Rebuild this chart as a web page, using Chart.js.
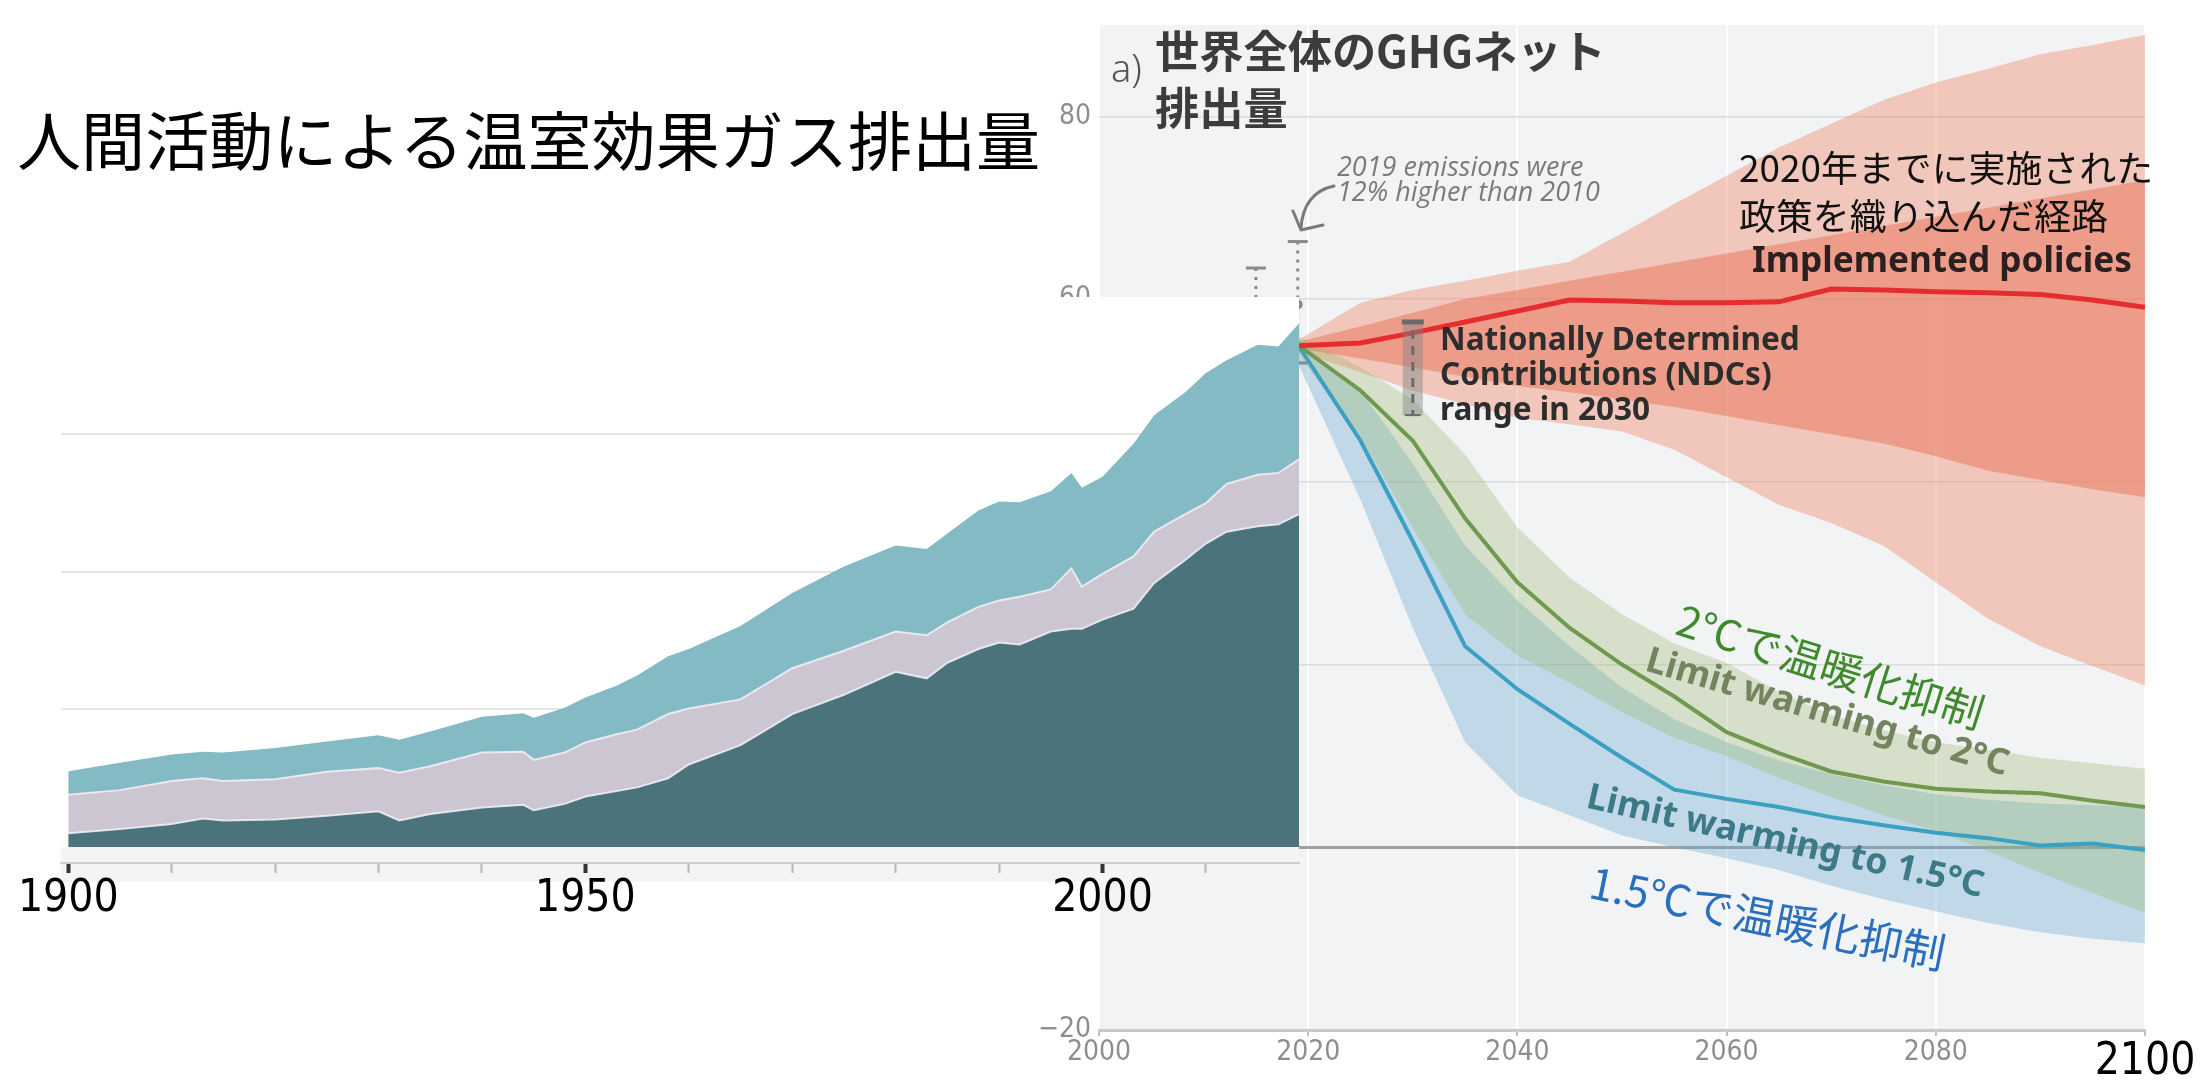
<!DOCTYPE html>
<html lang="ja">
<head>
<meta charset="UTF-8">
<title>人間活動による温室効果ガス排出量</title>
<script src="https://cdn.jsdelivr.net/npm/chart.js"></script>
<style>
  body { margin: 0; background: #fff; }
  #stage { position: relative; width: 2203px; height: 1085px; overflow: hidden; }
  canvas { position: absolute; left: 0; top: 0; }
  .txt { position: absolute; display: inline-block; white-space: nowrap; font-family: "Noto Sans CJK JP", "Noto Sans", sans-serif; }
  .lat { font-family: "Noto Sans", "Open Sans", sans-serif; font-weight: 700; }
  .rot { line-height: 1.2; }
</style>
</head>
<body>
<div id="stage">
  <canvas id="future" width="2203" height="1085"></canvas>
  <canvas id="history" width="2203" height="1085"></canvas>

  <svg width="2203" height="1085" style="position:absolute;left:0;top:0">
    <path d="M1334,186 C1314,190 1302,205 1301,229" stroke="#7a7a7a" stroke-width="3" fill="none" stroke-linecap="round"/>
    <polyline points="1293,211 1301,230 1323,225" stroke="#7a7a7a" stroke-width="3" fill="none" stroke-linecap="round" stroke-linejoin="round"/>
  </svg>

  <div class="txt" data-w="1023" style="left:17px;top:107px;font-size:60px;line-height:60px;color:#000">人間活動による温室効果ガス排出量</div>

  <div class="txt" style="left:1111px;top:47px;font-size:38px;line-height:40px;color:#555;font-family:'Noto Sans',sans-serif;font-weight:300">a)</div>
  <div class="txt" data-w="451" style="left:1155px;top:21px;font-size:45px;line-height:57px;color:#3c3c3c;font-weight:700">世界全体のGHGネット<br>排出量</div>

  <div class="txt" data-w="263" style="left:1337px;top:153px;font-size:24px;line-height:25px;color:#7b7b7b;font-style:italic;font-family:'Open Sans','Noto Sans',sans-serif">2019 emissions were<br>12% higher than 2010</div>

  <div class="txt" data-w="414" style="left:1739px;top:142px;font-size:37px;line-height:48px;color:#111">2020年までに実施された<br>政策を織り込んだ経路</div>
  <div class="txt lat" data-w="380" style="left:1752px;top:240px;font-size:31px;line-height:36px;color:#2a2020">Implemented policies</div>

  <div class="txt lat" data-w="360" style="left:1440px;top:320px;font-size:29px;line-height:35px;color:#2d2d2d">Nationally Determined<br>Contributions (NDCs)<br>range in 2030</div>

  <div class="txt rot" data-w="319" style="left:1831px;top:665px;font-size:42px;color:#3f8a2c;transform:translate(-50%,-50%) rotate(17.5deg)">2℃で温暖化抑制</div>
  <div class="txt rot lat" data-w="376" style="left:1828px;top:710px;font-size:31px;color:#72855f;transform:translate(-50%,-50%) rotate(16.3deg)">Limit warming to 2°C</div>
  <div class="txt rot lat" data-w="406" style="left:1786px;top:839px;font-size:31px;color:#3d7a88;transform:translate(-50%,-50%) rotate(12.8deg)">Limit warming to 1.5°C</div>
  <div class="txt rot" data-w="362" style="left:1768px;top:916px;font-size:43px;color:#2a6fbd;transform:translate(-50%,-50%) rotate(11.5deg)">1.5℃で温暖化抑制</div>
</div>

<script>
// ---- historical emissions (left panel), upper edge of each stacked layer ----
const histYears = [1900, 1905, 1910, 1913, 1915, 1920, 1925, 1930, 1932, 1935, 1940, 1944, 1945, 1948, 1950, 1953, 1955, 1958,
                   1960, 1965, 1970, 1975, 1980, 1983, 1985, 1988, 1990, 1992, 1995, 1997, 1998, 2000, 2003, 2005, 2008,
                   2010, 2012, 2015, 2017, 2019];
const histDarkTop = [1.5, 1.95, 2.5, 3.1, 2.9, 3.0, 3.4, 3.9, 2.9, 3.6, 4.3, 4.6, 4.0, 4.7, 5.5, 6.1, 6.5, 7.5,
                     9.0, 11.1, 14.5, 16.6, 19.1, 18.4, 20.1, 21.6, 22.3, 22.1, 23.5, 23.8, 23.8, 24.8, 26.0, 28.8, 31.3,
                     33.1, 34.4, 35.0, 35.2, 36.3];
const histMidTop = [5.7, 6.2, 7.2, 7.5, 7.2, 7.4, 8.2, 8.6, 8.1, 8.8, 10.3, 10.4, 9.5, 10.3, 11.4, 12.3, 12.8, 14.5,
                    15.1, 16.1, 19.5, 21.4, 23.5, 23.1, 24.5, 26.2, 26.9, 27.3, 28.1, 30.4, 28.4, 29.8, 31.7, 34.4, 36.3,
                    37.5, 39.6, 40.6, 40.8, 42.3];
const histTotal = [8.25, 9.2, 10.1, 10.4, 10.3, 10.8, 11.5, 12.2, 11.7, 12.6, 14.2, 14.6, 14.1, 15.2, 16.3, 17.6, 18.7, 20.8,
                   21.6, 24.1, 27.7, 30.6, 32.9, 32.5, 34.2, 36.7, 37.7, 37.6, 38.8, 40.8, 39.2, 40.4, 44.0, 47.1, 49.6,
                   51.7, 53.1, 54.8, 54.6, 57.1];
const histTickLabels = [1900, 1950, 2000];

// ---- scenario pathways (right panel) ----
const scenYears = [2019, 2025, 2030, 2035, 2040, 2045, 2050, 2055, 2060, 2065, 2070, 2075, 2080, 2085, 2090, 2095, 2100];
const policyMedian = [54.9, 55.2, 56.3, 57.5, 58.7, 59.9, 59.8, 59.6, 59.6, 59.7, 61.1, 61.0, 60.8, 60.7, 60.5, 59.9, 59.1];
const policyOuterHigh = [55.5, 59.6, 61.0, 62.0, 63.1, 64.1, 67.2, 70.4, 73.5, 76.6, 79.2, 81.8, 83.7, 85.2, 86.8, 87.8, 88.9];
const policyOuterLow = [54.3, 52.0, 50.0, 48.5, 47.0, 46.3, 45.5, 43.5, 40.5, 37.5, 35.5, 33.0, 29.0, 25.0, 22.0, 19.8, 17.7];
const policyInnerHigh = [55.3, 57.0, 58.5, 60.0, 61.0, 62.0, 63.0, 64.0, 65.0, 66.0, 67.0, 68.0, 69.0, 70.0, 71.0, 72.0, 73.0];
const policyInnerLow = [54.6, 53.5, 52.5, 51.5, 50.5, 49.8, 49.0, 48.2, 47.2, 46.2, 45.2, 44.2, 42.8, 41.2, 40.2, 39.2, 38.3];
const limit2Median = [55.0, 50.0, 44.5, 36.0, 29.0, 24.0, 20.0, 16.5, 12.6, 10.3, 8.3, 7.2, 6.4, 6.1, 5.9, 5.1, 4.4];
const limit2High = [56.0, 52.5, 49.0, 43.0, 35.0, 29.5, 25.5, 22.3, 20.2, 17.0, 14.5, 12.8, 11.5, 10.7, 9.8, 9.2, 8.6];
const limit2Low = [54.0, 45.0, 35.0, 25.5, 21.0, 18.0, 14.8, 12.0, 10.0, 7.6, 5.5, 3.5, 1.8, -0.4, -2.8, -5.0, -7.2];
const limit15Median = [55.0, 44.5, 33.5, 22.0, 17.3, 13.5, 9.8, 6.3, 5.3, 4.4, 3.3, 2.4, 1.6, 1.0, 0.2, 0.4, -0.3];
const limit15High = [55.5, 50.0, 42.0, 33.0, 27.0, 22.0, 17.5, 14.0, 11.5, 9.5, 8.0, 6.8, 5.8, 5.2, 4.8, 4.6, 4.4];
const limit15Low = [53.0, 38.0, 24.0, 11.5, 5.7, 3.5, 1.3, 0.0, -1.2, -2.5, -4.2, -5.7, -7.0, -8.3, -9.3, -10.0, -10.5];

// uncertainty whiskers on observed emissions, the 2019 value, and the NDC range
const obsYears = [2015, 2019];
const obsLow = [50.0, 53.0];
const obsHigh = [63.4, 66.3];
const obs2019 = 59.4;
const ndcYear = 2030;
const ndcLow = 47.3;
const ndcHigh = 57.5;

const narrow = '"Liberation Sans Narrow", "DejaVu Sans Condensed", sans-serif';
const condensed = '"DejaVu Sans Condensed", "DejaVu Sans", sans-serif';

function pts(xs, ys) { return xs.map((x, i) => ({ x: x, y: ys[i] })); }
function band(low, high, color, order) {
    return [
        { data: pts(scenYears, low), borderWidth: 0, fill: false, order: order },
        { data: pts(scenYears, high), borderWidth: 0, fill: '-1', backgroundColor: color, order: order }
    ];
}

const panelBg = {
    id: 'panelBg',
    beforeDraw(chart) {
        const { ctx, chartArea: a } = chart;
        ctx.save();
        ctx.fillStyle = '#f2f3f5';
        ctx.fillRect(a.left, a.top, a.right - a.left, a.bottom - a.top);
        ctx.restore();
    }
};

const markers = {
    id: 'markers',
    afterDatasetsDraw(chart) {
        const { ctx, scales: { x, y } } = chart;
        const seg = (x1, y1, x2, y2) => { ctx.beginPath(); ctx.moveTo(x1, y1); ctx.lineTo(x2, y2); ctx.stroke(); };
        ctx.save();
        ctx.strokeStyle = '#8a8a8a';
        ctx.lineWidth = 3;
        obsYears.forEach((yr, i) => {
            const px = x.getPixelForValue(yr);
            const t = y.getPixelForValue(obsHigh[i]);
            const b = y.getPixelForValue(obsLow[i]);
            ctx.setLineDash([3, 6]);
            seg(px, t, px, b);
            ctx.setLineDash([]);
            seg(px - 10, t, px + 10, t);
            seg(px - 10, b, px + 10, b);
        });
        ctx.fillStyle = '#8a8a8a';
        ctx.beginPath();
        ctx.arc(x.getPixelForValue(2019), y.getPixelForValue(obs2019), 5, 0, Math.PI * 2);
        ctx.fill();

        // NDC range bar
        const nx = x.getPixelForValue(ndcYear);
        const nt = y.getPixelForValue(ndcHigh);
        const nb = y.getPixelForValue(ndcLow);
        ctx.fillStyle = 'rgba(130,130,130,0.45)';
        ctx.fillRect(nx - 10, nt, 20, nb - nt);
        ctx.strokeStyle = '#6a6a6a';
        ctx.setLineDash([9, 7]);
        seg(nx, nt + 8, nx, nb);
        ctx.setLineDash([]);
        ctx.lineWidth = 5;
        seg(nx - 11, nt, nx + 11, nt);
        ctx.lineWidth = 2;
        seg(nx - 8, nb, nx + 8, nb);
        ctx.restore();
    }
};

new Chart(document.getElementById('future'), {
    type: 'line',
    data: {
        datasets: [
            ...band(policyOuterLow, policyOuterHigh, 'rgba(240,130,100,0.4)', 10),
            ...band(policyInnerLow, policyInnerHigh, 'rgba(235,110,85,0.48)', 9),
            ...band(limit15Low, limit15High, 'rgba(100,165,205,0.35)', 8),
            ...band(limit2Low, limit2High, 'rgba(150,180,100,0.3)', 7),
            { data: pts(scenYears, limit15Median), borderColor: '#3ba0c2', borderWidth: 4, fill: false, order: 3 },
            { data: pts(scenYears, limit2Median), borderColor: '#70994f', borderWidth: 4, fill: false, order: 2 },
            { data: pts(scenYears, policyMedian), borderColor: '#e52d30', borderWidth: 5, fill: false, order: 1 }
        ]
    },
    options: {
        responsive: false,
        animation: false,
        layout: { padding: { left: 1039, right: 58, top: 25, bottom: 0 } },
        plugins: { legend: { display: false }, tooltip: { enabled: false } },
        elements: { point: { radius: 0 }, line: { tension: 0 } },
        scales: {
            x: {
                type: 'linear', min: 2000, max: 2100,
                afterFit: s => { s.height = 55; },
                border: { color: '#c9c9c9', width: 3 },
                grid: { color: '#ffffff', lineWidth: 2, tickColor: '#c0c0c0', tickWidth: 2, tickLength: 6 },
                ticks: {
                    stepSize: 20, padding: 0, autoSkip: false, maxRotation: 0,
                    callback: v => String(v),
                    color: c => (c.tick && c.tick.value === 2100) ? '#000' : '#8e8e8e',
                    font: c => (c.tick && c.tick.value === 2100)
                        ? { family: condensed, size: 44 }
                        : { family: narrow, size: 28 }
                }
            },
            y: {
                min: -20, max: 90,
                afterFit: s => { s.width = 60; },
                border: { display: false },
                grid: {
                    drawTicks: false,
                    color: c => c.tick.value === 0 ? '#a0a0a0' : '#dcdcdc',
                    lineWidth: c => c.tick.value === 0 ? 3 : 1.5
                },
                ticks: {
                    stepSize: 20, includeBounds: false, padding: 8,
                    color: '#8e8e8e', font: { family: narrow, size: 28 },
                    callback: v => v < 0 ? '\u2212' + Math.abs(v) : String(v)
                }
            }
        }
    },
    plugins: [panelBg, markers]
});

const historyPanel = {
    id: 'historyPanel',
    beforeDraw(chart) {
        const { ctx, chartArea: a, scales: { y } } = chart;
        const zero = y.getPixelForValue(0);
        ctx.save();
        ctx.fillStyle = '#ffffff';
        ctx.fillRect(a.left, a.top, a.right - a.left, zero - a.top);
        ctx.fillStyle = '#f3f4f6';
        ctx.fillRect(a.left, zero, a.right - a.left, a.bottom + 19 - zero);
        ctx.restore();
    }
};

const sep = 'rgba(238,236,244,0.9)';
new Chart(document.getElementById('history'), {
    type: 'line',
    data: {
        datasets: [
            { data: pts(histYears, histDarkTop), fill: 'origin', backgroundColor: '#4a737b', borderColor: sep, borderWidth: 2 },
            { data: pts(histYears, histMidTop), fill: '-1', backgroundColor: '#cbc6d2', borderColor: sep, borderWidth: 2 },
            { data: pts(histYears, histTotal), fill: '-1', backgroundColor: '#84bac4', borderColor: 'rgba(0,0,0,0)', borderWidth: 0 }
        ]
    },
    options: {
        responsive: false,
        animation: false,
        layout: { padding: { left: 0, right: 904, top: 297, bottom: 0 } },
        plugins: { legend: { display: false }, tooltip: { enabled: false } },
        elements: { point: { radius: 0 }, line: { tension: 0 } },
        scales: {
            x: {
                type: 'linear', min: 1899.3, max: 2019,
                afterFit: s => { s.height = 1085 - 863; },
                border: { color: '#cfcfcf', width: 2 },
                grid: {
                    drawOnChartArea: false, tickLength: 10,
                    tickColor: c => c.tick.value % 50 === 0 ? '#333' : '#b5b5b5',
                    tickWidth: c => c.tick.value % 50 === 0 ? 4 : 2
                },
                ticks: {
                    stepSize: 10, includeBounds: false, autoSkip: false, maxRotation: 0, padding: 0,
                    color: '#000', font: { family: condensed, size: 44 },
                    callback: v => histTickLabels.includes(v) ? String(v) : ''
                }
            },
            y: {
                min: -1.75, max: 60,
                afterFit: s => { s.width = 61; },
                border: { display: false },
                grid: {
                    drawTicks: false, lineWidth: 2,
                    color: c => [15, 30, 45].includes(c.tick.value) ? '#e6e6e6' : 'rgba(0,0,0,0)'
                },
                ticks: { stepSize: 15, includeBounds: false, display: false }
            }
        }
    },
    plugins: [historyPanel]
});

// shrink or grow each annotation so that it spans the width seen in the figure
function fitText() {
    document.querySelectorAll('[data-w]').forEach(el => {
        const size = parseFloat(getComputedStyle(el).fontSize);
        el.style.fontSize = (size * (+el.dataset.w) / el.offsetWidth).toFixed(2) + 'px';
    });
}
fitText();
document.fonts.ready.then(fitText);
</script>
</body>
</html>
